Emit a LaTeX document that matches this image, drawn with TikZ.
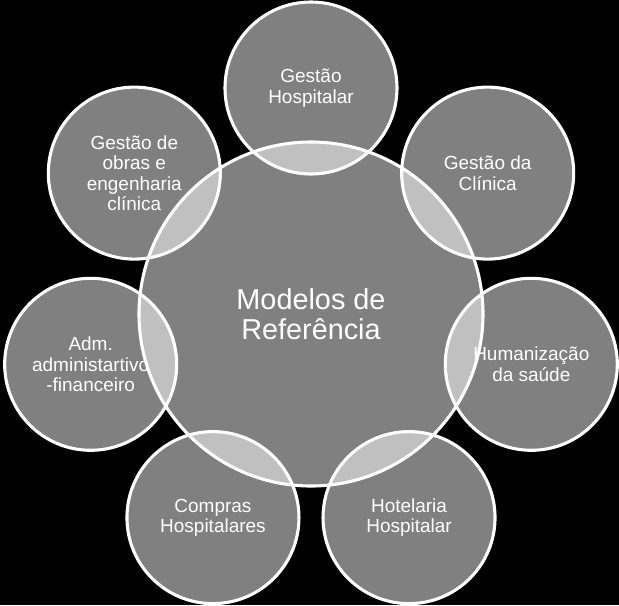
\documentclass[tikz,border=0pt]{standalone}
\usepackage{fontspec}
\setmainfont{Liberation Sans}
\definecolor{bubblegray}{RGB}{128,128,128}
\definecolor{lensgray}{RGB}{192,192,192}
\tikzset{
	bubble/.style={fill=bubblegray},
	lens/.style={fill=lensgray},
	ring/.style={draw=white, line width=2.2pt},
	area/.style={text=white, align=center, inner sep=0pt, font=\fontsize{13.5}{14.6}\selectfont},
	hubtext/.style={text=white, align=center, inner sep=0pt, font=\fontsize{20.5}{21.5}\selectfont}
}

\begin{document}
\begin{tikzpicture}[x=0.025cm, y=0.025cm]
			\fill[black] (-311,-291) rectangle (308,314);
			\coordinate (hub) at (0,0);
			\coordinate (GH) at (90:226);
			\coordinate (GC) at (38.57:226);
			\coordinate (HS) at (-12.86:226);
			\coordinate (HH) at (-64.29:226);
			\coordinate (CH) at (-115.71:226);
			\coordinate (AF) at (192.86:226);
			\coordinate (GO) at (141.43:226);
			% circles
			\fill[bubble] (hub) circle (172) (GH) circle (86) (GC) circle (86) (HS) circle (86)
				(HH) circle (86) (CH) circle (86) (AF) circle (86) (GO) circle (86);
			% overlaps with the centre
			\begin{scope}
				\clip (hub) circle (172);
				\fill[lens] (GH) circle (86) (GC) circle (86) (HS) circle (86)
					(HH) circle (86) (CH) circle (86) (AF) circle (86) (GO) circle (86);
			\end{scope}
			\draw[ring] (hub) circle (172) (GH) circle (86) (GC) circle (86) (HS) circle (86)
				(HH) circle (86) (CH) circle (86) (AF) circle (86) (GO) circle (86);
			% labels
			\node[hubtext] (MR) at (hub) {Modelos de\\Referência};
			\node[area] (GHlabel) at (GH) {Gestão\\Hospitalar};
			\node[area] (GClabel) at (GC) {Gestão da\\Clínica};
			\node[area] (HSlabel) at (HS) {Humanização\\da saúde};
			\node[area] (HHlabel) at (HH) {Hotelaria\\Hospitalar};
			\node[area] (CHlabel) at (CH) {Compras\\Hospitalares};
			\node[area] (AFlabel) at (AF) {Adm.\\administartivo\\-financeiro};
			\node[area] (GOlabel) at (GO) {Gestão de\\obras e\\engenharia\\clínica};
\end{tikzpicture}
\end{document}
